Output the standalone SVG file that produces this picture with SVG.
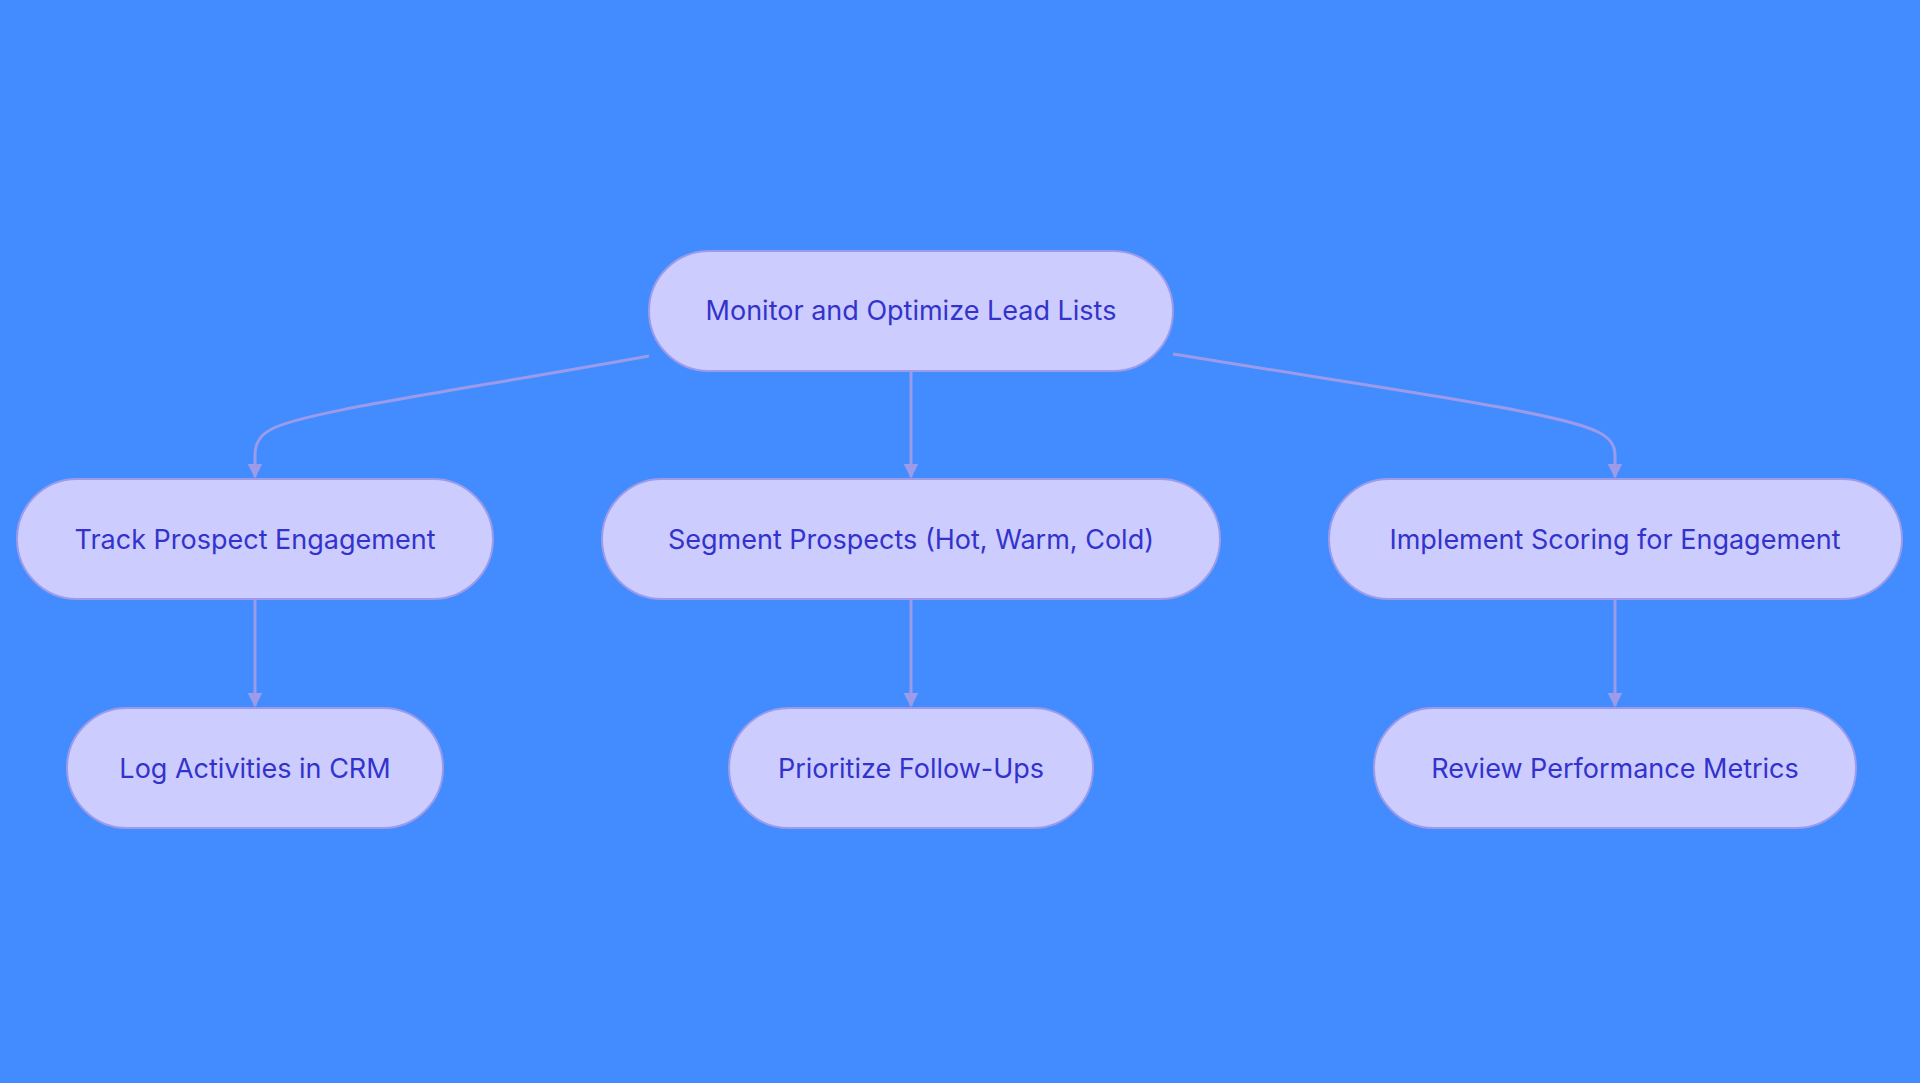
<svg xmlns="http://www.w3.org/2000/svg" width="1920" height="1083" viewBox="0 0 1920 1083">
<style>
.n{fill:#ccccff;stroke:#9b9bea;stroke-width:2}
.t{font-family:Inter,"Liberation Sans",sans-serif;font-size:27px;fill:#3333cc;text-anchor:middle;dominant-baseline:central}
.e{fill:none;stroke:#9b9bea;stroke-width:3}
</style>
<defs><marker id="a" viewBox="0 0 10 10" refX="9" refY="5" markerWidth="5" markerHeight="5" orient="auto"><path d="M0,0L10,5L0,10z" fill="#9b9bea"/></marker></defs>
<rect width="1920" height="1083" fill="#428cff"/>
<g id="edges">
<path class="e" marker-end="url(#a)" d="M649,356 C450,392 300,412 270,430 Q255,438 255,455 L255,477"/>
<path class="e" marker-end="url(#a)" d="M911,371 L911,477"/>
<path class="e" marker-end="url(#a)" d="M1173,354 C1380,388 1560,412 1598,432 Q1615,440 1615,455 L1615,477"/>
<path class="e" marker-end="url(#a)" d="M255,600 L255,706"/>
<path class="e" marker-end="url(#a)" d="M911,600 L911,706"/>
<path class="e" marker-end="url(#a)" d="M1615,600 L1615,706"/>
</g>
<g id="root"><rect class="n" x="649" y="251" width="524" height="120" rx="60"/><text class="t" x="911" y="310">Monitor and Optimize Lead Lists</text></g>
<g id="track"><rect class="n" x="17" y="479" width="476" height="120" rx="60"/><text class="t" x="255" y="539">Track Prospect Engagement</text></g>
<g id="segment"><rect class="n" x="602" y="479" width="618" height="120" rx="60"/><text class="t" x="911" y="539">Segment Prospects (Hot, Warm, Cold)</text></g>
<g id="implement"><rect class="n" x="1329" y="479" width="573" height="120" rx="60"/><text class="t" x="1615" y="539">Implement Scoring for Engagement</text></g>
<g id="log"><rect class="n" x="67" y="708" width="376" height="120" rx="60"/><text class="t" x="255" y="768">Log Activities in CRM</text></g>
<g id="prioritize"><rect class="n" x="729" y="708" width="364" height="120" rx="60"/><text class="t" x="911" y="768">Prioritize Follow-Ups</text></g>
<g id="review"><rect class="n" x="1374" y="708" width="482" height="120" rx="60"/><text class="t" x="1615" y="768">Review Performance Metrics</text></g>
</svg>
